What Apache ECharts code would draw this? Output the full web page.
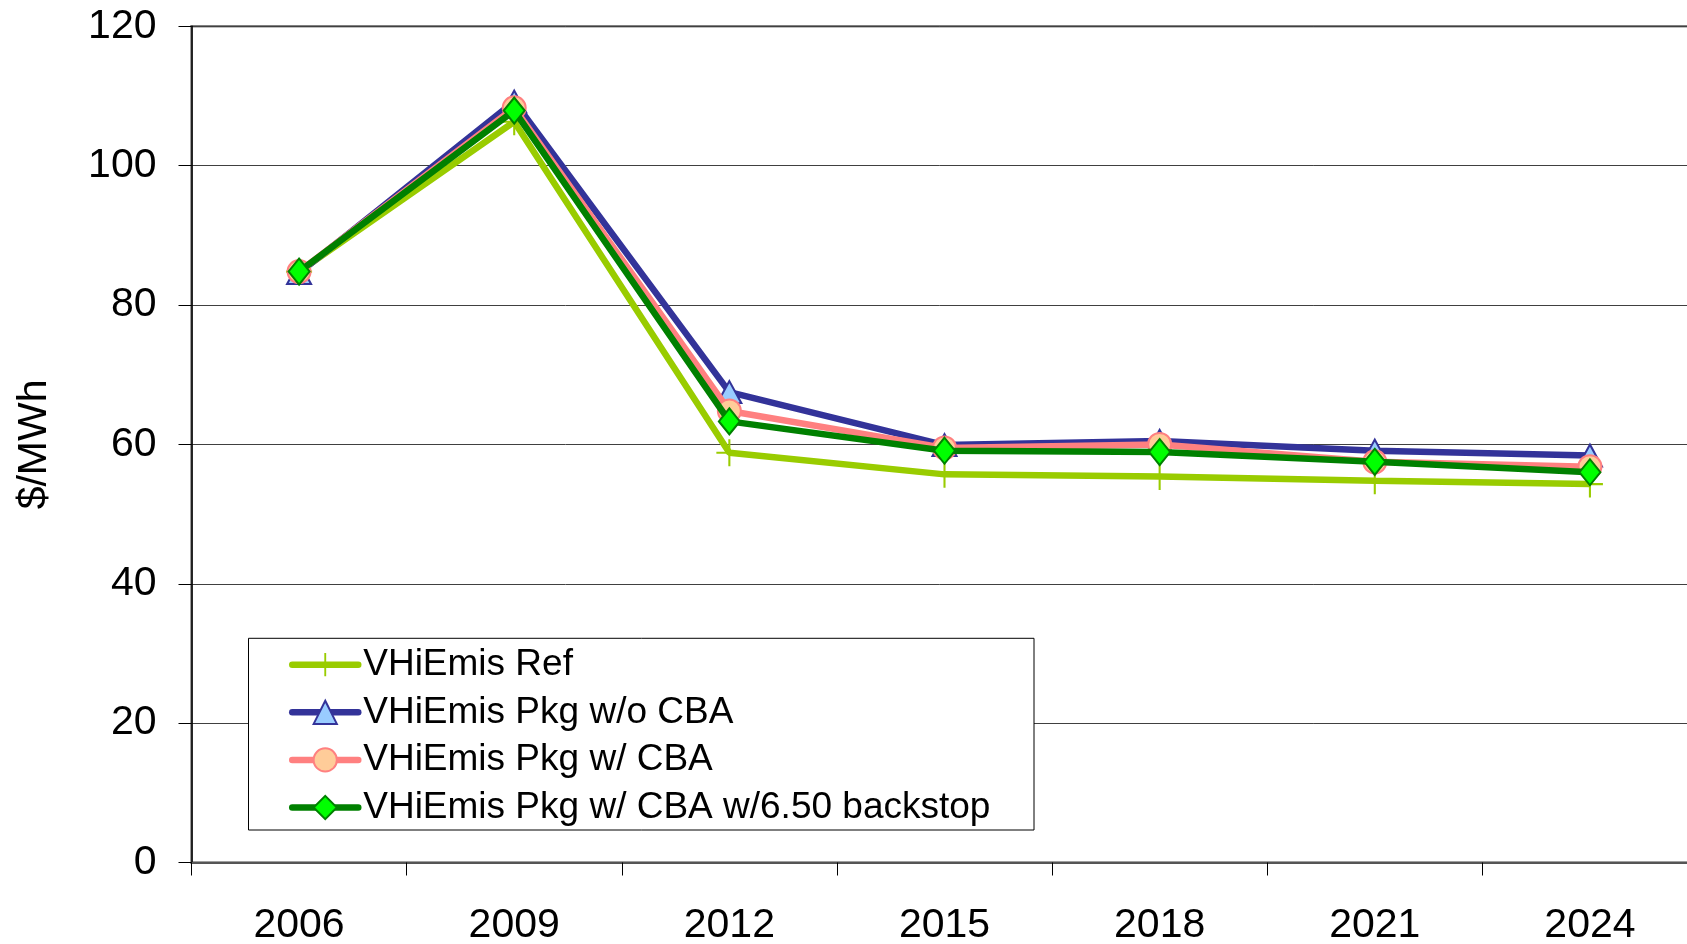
<!DOCTYPE html>
<html>
<head>
<meta charset="utf-8">
<script src="https://cdn.jsdelivr.net/npm/echarts@6/dist/echarts.min.js"></script>
<style>
html,body{margin:0;padding:0;background:#fff;}
#chart{width:1687px;height:944px;}
</style>
</head>
<body>
<div id="chart"></div>
<script>
const years = ['2006','2009','2012','2015','2018','2021','2024'];
const refValues = [84.8, 106.3, 58.8, 55.7, 55.4, 54.8, 54.3];
const pkgNoCbaValues = [84.6, 109.2, 67.5, 59.9, 60.5, 59.1, 58.4];
const pkgCbaValues = [84.8, 108.3, 64.8, 59.5, 60.0, 57.5, 56.8];
const pkgBackstopValues = [84.8, 107.9, 63.3, 59.1, 58.9, 57.5, 56.0];
const seriesNames = ['VHiEmis Ref','VHiEmis Pkg w/o CBA','VHiEmis Pkg w/ CBA','VHiEmis Pkg w/ CBA w/6.50 backstop'];
const yTicks = {min: 0, max: 120, interval: 20};

const FONT = '"Liberation Sans", Arial, sans-serif';
const plusPath = 'path://M0,9.2 H20 V10.8 H0 Z M9.2,0 H10.8 V20 H9.2 Z';

const chart = echarts.init(document.getElementById('chart'), null, {renderer: 'canvas'});
chart.setOption({
  animation: false,
  backgroundColor: '#ffffff',
  grid: {
    left: 191.5, top: 26.3, width: 1506, bottom: 81.5,
    show: true, borderColor: '#808080', borderWidth: 2.5, backgroundColor: 'transparent',
    containLabel: false,
    outerBoundsMode: 'none'
  },
  xAxis: {
    type: 'category',
    data: years,
    boundaryGap: true,
    axisLine: {lineStyle: {color: '#555555', width: 2}},
    axisTick: {show: true, length: 13, lineStyle: {color: '#000', width: 1}},
    axisLabel: {color: '#000', fontFamily: FONT, fontSize: 41, margin: 43},
    splitLine: {show: false}
  },
  yAxis: {
    type: 'value',
    min: yTicks.min, max: yTicks.max, interval: yTicks.interval,
    name: '$/MWh',
    nameLocation: 'middle',
    nameRotate: 90,
    nameGap: 136,
    nameTextStyle: {color: '#000', fontFamily: FONT, fontSize: 41},
    axisLine: {show: true, lineStyle: {color: '#000', width: 1.5}},
    axisTick: {show: true, length: 13, lineStyle: {color: '#000', width: 1}},
    axisLabel: {color: '#000', fontFamily: FONT, fontSize: 41, margin: 35},
    splitLine: {show: true, lineStyle: {color: '#404040', width: 1}}
  },
  graphic: [{
    type: 'rect',
    z: 3,
    shape: {x: 248.5, y: 638.3, width: 785.5, height: 191.7},
    style: {fill: '#ffffff', stroke: '#000000', lineWidth: 1}
  }],
  legend: {
    orient: 'vertical',
    left: 289,
    top: 644.7,
    padding: 0,
    itemGap: 7.6,
    itemWidth: 66,
    itemHeight: 29,
    z: 5,
    lineStyle: {width: 6.5, cap: 'round'},
    textStyle: {color: '#000', fontFamily: FONT, fontSize: 37, lineHeight: 40},
    data: seriesNames
  },
  series: [
    {
      name: seriesNames[0], type: 'line', data: refValues,
      symbol: plusPath, symbolSize: [26, 27],
      lineStyle: {color: '#99CC00', width: 6.5},
      itemStyle: {color: '#99CC00', borderWidth: 0},
      z: 2
    },
    {
      name: seriesNames[1], type: 'line', data: pkgNoCbaValues,
      symbol: 'triangle', symbolSize: [24, 22],
      lineStyle: {color: '#333399', width: 6.5},
      itemStyle: {color: '#99CCFF', borderColor: '#333399', borderWidth: 2},
      z: 3
    },
    {
      name: seriesNames[2], type: 'line', data: pkgCbaValues,
      symbol: 'circle', symbolSize: 23,
      lineStyle: {color: '#FF8080', width: 6.5},
      itemStyle: {color: '#FFCC99', borderColor: '#FF8080', borderWidth: 2},
      z: 4
    },
    {
      name: seriesNames[3], type: 'line', data: pkgBackstopValues,
      symbol: 'diamond', symbolSize: [21, 26],
      lineStyle: {color: '#008000', width: 6.5},
      itemStyle: {color: '#00FF00', borderColor: '#008000', borderWidth: 2},
      z: 5
    }
  ]
});
</script>
</body>
</html>
